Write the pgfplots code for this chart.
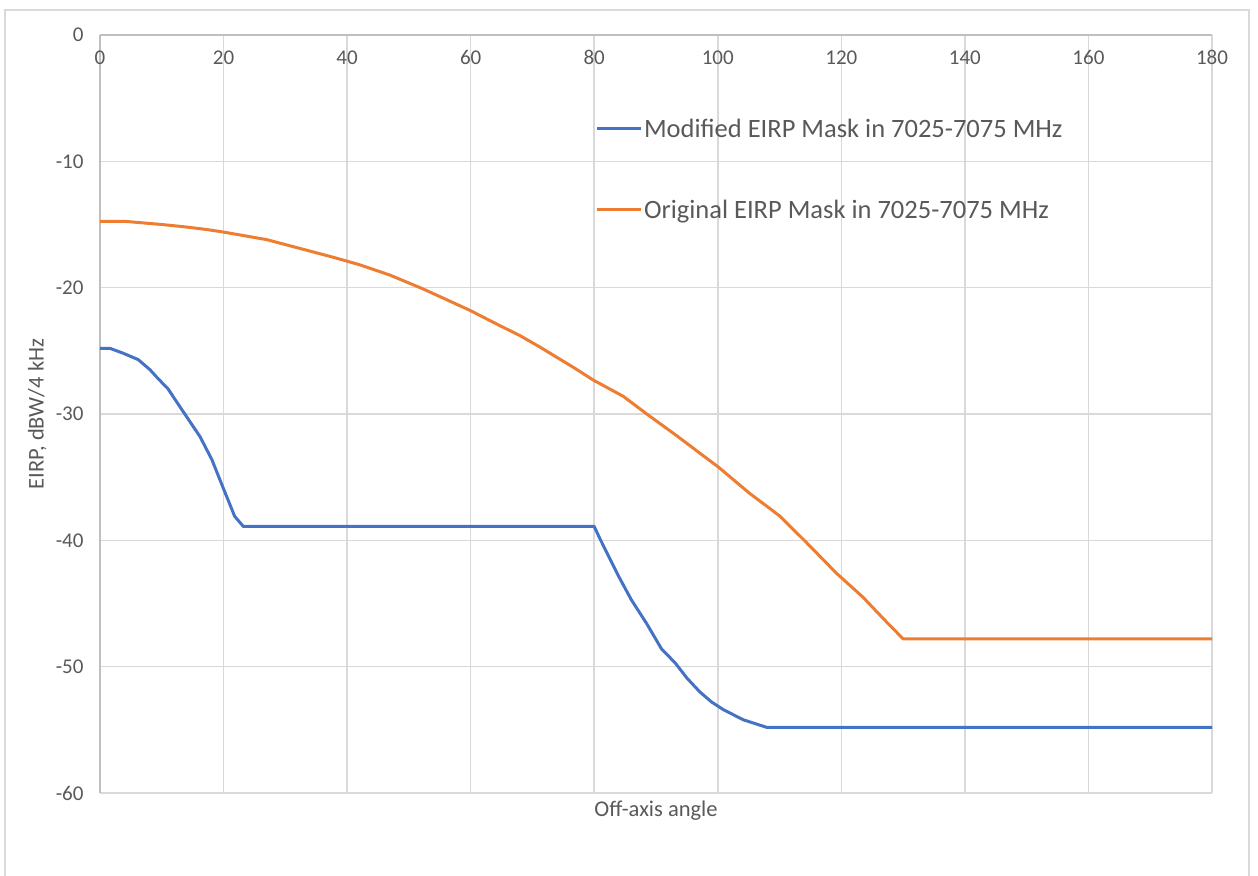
\documentclass[border=0pt]{standalone}
\usepackage{fontspec}
\setmainfont{Carlito}
\usepackage{pgfplots}
\pgfplotsset{compat=1.18}
\definecolor{txt}{HTML}{595959}
\definecolor{gridc}{HTML}{D9D9D9}
\definecolor{axc}{HTML}{BFBFBF}
\definecolor{blueS}{HTML}{4472C4}
\definecolor{orangeS}{HTML}{ED7D31}
\begin{document}
\begin{tikzpicture}
\useasboundingbox (0,0) rectangle (1258bp,876bp);
\begin{scope}
\clip (0,0) rectangle (1258bp,876bp);
\draw[gridc, line width=1.5bp] (5bp,-10bp) rectangle (1249bp,866bp);
\end{scope}
\begin{axis}[
  at={(100bp,83bp)}, anchor=south west,
  scale only axis, width=1112bp, height=758bp,
  xmin=0, xmax=180, ymin=-60, ymax=0,
  xtick distance=20, ytick distance=10,
  axis x line*=top, axis y line*=left,
  axis line style={axc, line width=1.5bp, -},
  grid=major, grid style={gridc, line width=1.5bp},
  major tick length=0pt,
  /pgf/number format/assume math mode=true,
  tick label style={font=\fontsize{21bp}{24bp}\selectfont, text=txt},
  xticklabel style={anchor=north, yshift=-12bp},
  yticklabel style={xshift=-13bp},
  xlabel={Off-axis angle}, ylabel={EIRP, dBW/4 kHz},
  label style={font=\fontsize{22.5bp}{26bp}\selectfont, text=txt},
  xlabel style={at={(axis description cs:0.5,0)}, anchor=north, yshift=-4bp},
  ylabel style={at={(axis description cs:0,0.5)}, anchor=south, yshift=50bp},
  legend style={draw=none, fill=none, at={(axis description cs:0.445,0.892)}, anchor=north west,
    font=\fontsize{26.5bp}{30bp}\selectfont, text=txt, row sep=57bp, inner sep=0pt,
    /tikz/every even column/.append style={column sep=2bp}},
  legend cell align=left,
  legend image code/.code={\draw[#1, line width=3bp] (0bp,0bp) -- (44bp,0bp);},
  clip=false,
]
\addplot[blueS, line width=3bp, line join=round] coordinates {
(0,-24.8) (1.6,-24.8) (3.8,-25.2) (6.2,-25.7) (8.1,-26.5) (9.4,-27.2) (11.0,-28.0)
(12.9,-29.4) (14.0,-30.2) (16.2,-31.8) (18.1,-33.6) (19.9,-35.8) (21.8,-38.1) (23.2,-38.9)
(80,-38.9) (80.9,-39.85) (83.9,-42.8) (86.0,-44.7) (88.5,-46.6) (90.9,-48.6) (93.1,-49.7)
(95.0,-50.9) (97.1,-52.0) (99.0,-52.8) (100.9,-53.4) (104.1,-54.2) (107.9,-54.8) (180,-54.8)
};
\addlegendentry{Modified EIRP Mask in 7025-7075 MHz}
\addplot[orangeS, line width=3bp, line join=round] coordinates {
(0,-14.75) (4,-14.75) (10,-15.0) (14,-15.2) (17.3,-15.4) (20,-15.6) (27,-16.2) (32.4,-16.9)
(37.8,-17.6) (42.1,-18.2) (46.9,-19.0) (52.3,-20.1) (59.9,-21.8) (64.7,-23.0) (68.0,-23.8)
(71.2,-24.7) (76.6,-26.3) (79.8,-27.3) (84.7,-28.6) (88.5,-30.0) (93.3,-31.7) (97.1,-33.1)
(100.1,-34.2) (105.2,-36.3) (110.1,-38.1) (114.4,-40.2) (119.2,-42.6) (123.5,-44.5)
(126.8,-46.2) (130.0,-47.8) (180,-47.8)
};
\addlegendentry{Original EIRP Mask in 7025-7075 MHz}
\end{axis}
\end{tikzpicture}
\end{document}
